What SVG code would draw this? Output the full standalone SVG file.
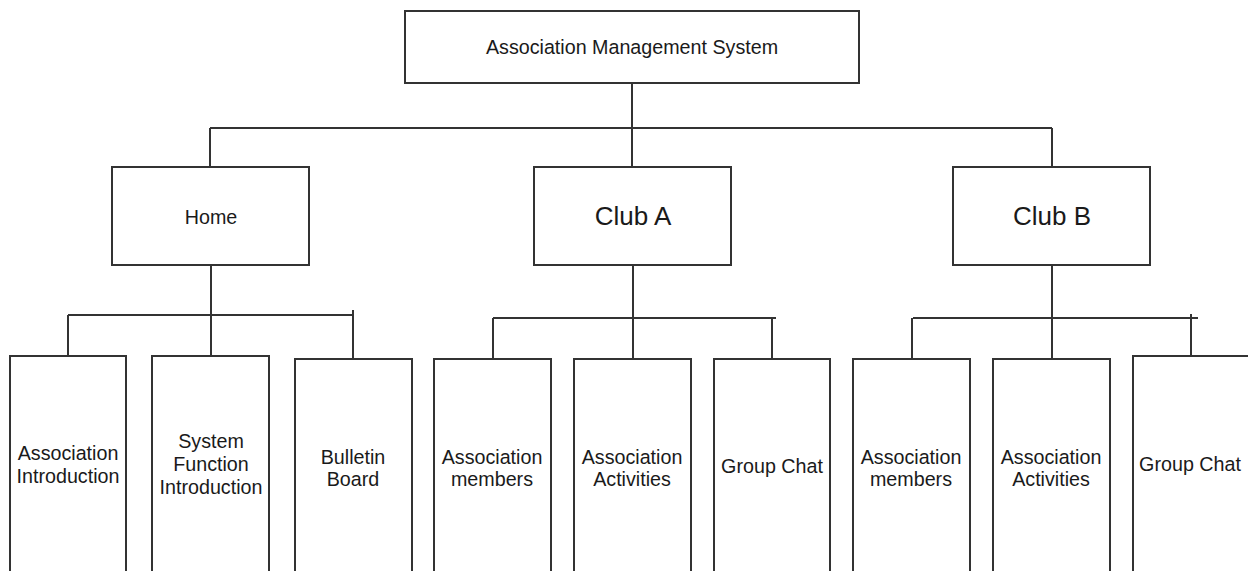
<svg xmlns="http://www.w3.org/2000/svg" width="1248" height="571" viewBox="0 0 1248 571">
<style>
.box{fill:#fff;stroke:#333;stroke-width:2}
.ln{fill:none;stroke:#333;stroke-width:2}
text{font-family:"Liberation Sans",Arial,sans-serif;font-size:19.7px;fill:#1a1a1a;text-anchor:middle}
.big{font-size:26px}
</style>
<rect width="1248" height="571" fill="#fff"/>
<g id="connectors">
<path class="ln" d="M632,83V128M210,128H1052M210,128V167M632,128V167M1052,128V167"/>
<path class="ln" d="M211,265V356M68,315H353M68,315V356M353,310V359"/>
<path class="ln" d="M633,265V359M493,318H776M493,318V359M772,318V359"/>
<path class="ln" d="M1052,265V359M913,318H1198M912,318V359M1191,314V356"/>
</g>
<g id="root"><rect class="box" x="405" y="11" width="454" height="72"/><text x="632" y="54">Association Management System</text></g>
<g id="home"><rect class="box" x="112" y="167" width="197" height="98"/><text x="211" y="224">Home</text></g>
<g id="clubA"><rect class="box" x="534" y="167" width="197" height="98"/><text class="big" x="633" y="225">Club A</text></g>
<g id="clubB"><rect class="box" x="953" y="167" width="197" height="98"/><text class="big" x="1052" y="225">Club B</text></g>
<g id="assocIntro"><rect class="box" x="10" y="356" width="116" height="230"/><text x="68" y="460">Association</text><text x="68" y="483">Introduction</text></g>
<g id="sysFunc"><rect class="box" x="152" y="356" width="117" height="230"/><text x="211" y="448">System</text><text x="211" y="471">Function</text><text x="211" y="494">Introduction</text></g>
<g id="bulletin"><rect class="box" x="295" y="359" width="117" height="230"/><text x="353" y="464">Bulletin</text><text x="353" y="486">Board</text></g>
<g id="aMembers"><rect class="box" x="434" y="359" width="117" height="230"/><text x="492" y="464">Association</text><text x="492" y="486">members</text></g>
<g id="aActivities"><rect class="box" x="574" y="359" width="117" height="230"/><text x="632" y="464">Association</text><text x="632" y="486">Activities</text></g>
<g id="aChat"><rect class="box" x="714" y="359" width="116" height="230"/><text x="772" y="473">Group Chat</text></g>
<g id="bMembers"><rect class="box" x="853" y="359" width="117" height="230"/><text x="911" y="464">Association</text><text x="911" y="486">members</text></g>
<g id="bActivities"><rect class="box" x="993" y="359" width="117" height="230"/><text x="1051" y="464">Association</text><text x="1051" y="486">Activities</text></g>
<g id="bChat"><rect class="box" x="1133" y="356" width="130" height="230"/><text x="1190" y="471">Group Chat</text></g>
</svg>
